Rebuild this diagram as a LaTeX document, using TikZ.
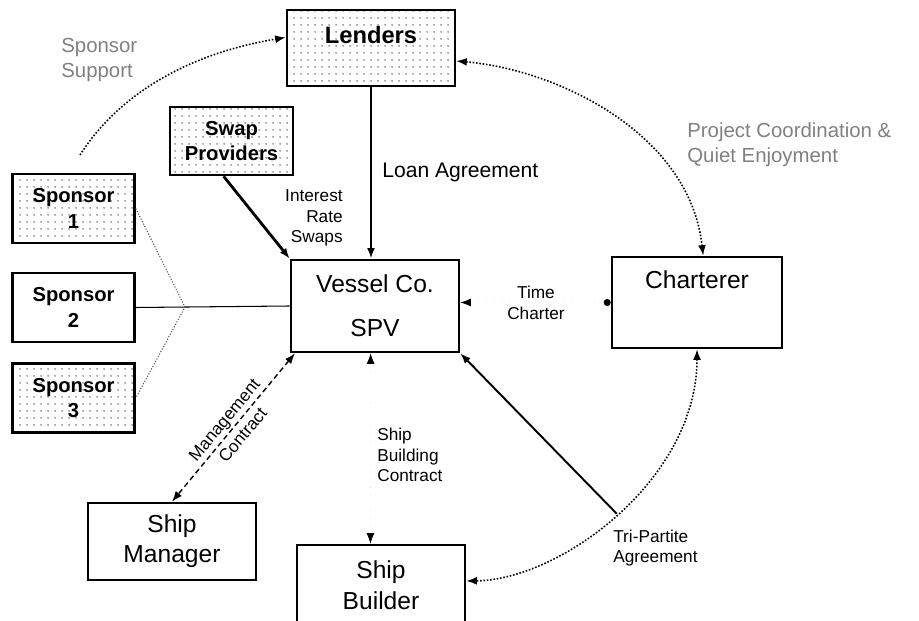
\documentclass[tikz,border=0pt]{standalone}
\usepackage{fontspec}
\setmainfont{Liberation Sans}
\usetikzlibrary{arrows.meta,patterns.meta}
\tikzset{
  deal-box/.style={draw=black, line width=1.5pt, align=center, inner sep=0pt,
    font=\fontsize{14}{17}\selectfont},
  deal-dotbox/.style={deal-box, pattern={Dots[distance=4pt,radius=0.5pt]}, pattern color=black!70},
  box-bold/.style={font=\bfseries\fontsize{11.5}{14.5}\selectfont},
  box-title/.style={align=center, inner sep=0pt, font=\fontsize{14}{17.5}\selectfont},
  link-heavy/.style={line width=1.6pt},
  link-solid/.style={line width=1.1pt},
  link-thin/.style={line width=0.6pt},
  link-dotted/.style={densely dotted, line width=0.9pt},
  link-fine/.style={densely dotted, line width=0.6pt, black!70},
  link-dashed/.style={dash pattern=on 3pt off 2pt, line width=0.8pt},
  link-faint/.style={loosely dotted, line width=0.4pt, black!12},
  deal-label/.style={inner sep=0pt, font=\fontsize{12}{14}\selectfont},
  small-label/.style={inner sep=0pt, font=\fontsize{9.8}{11.6}\selectfont},
  faint-label/.style={inner sep=0pt, text=black!50, font=\fontsize{11.6}{14}\selectfont}
}

\begin{document}
\begin{tikzpicture}[x=0.02cm, y=-0.02cm, >={Latex[length=6pt,width=4.5pt]}]
  \useasboundingbox (0,0) rectangle (919,621);
  % parties
  \node[deal-dotbox, minimum width=3.36cm, minimum height=1.52cm] (lenders) at (371,48) {};
  \node[box-title, font=\bfseries\fontsize{13.5}{16}\selectfont] (lenders-text) at (371,35) {Lenders};
  \node[deal-dotbox, box-bold, minimum width=2.46cm, minimum height=1.36cm] (swap) at (231.5,141) {Swap\\Providers};
  \foreach \n/\y/\sty in {1/208.5/deal-dotbox, 2/307.5/deal-box, 3/398/deal-dotbox} {
    \node[\sty, box-bold, minimum width=2.44cm, minimum height=1.38cm] (sponsor\n) at (73.5,\y) {Sponsor\\\n};
  }
  \node[deal-box, minimum width=3.36cm, minimum height=1.84cm] (spv) at (375,306) {Vessel Co.\\[8pt]SPV};
  \node[deal-box, minimum width=3.4cm, minimum height=1.82cm] (charterer) at (697,302.5) {};
  \node[box-title] (charterer-text) at (697,280) {Charterer};
  \node[deal-box, minimum width=3.36cm, minimum height=1.54cm] (manager) at (172,541.5) {Ship\\Manager};
  \node[deal-box, minimum width=3.36cm, minimum height=2.0cm] (builder) at (381,595) {};
  \node[box-title] (builder-text) at (381,585) {Ship\\Builder};

  % labels
  \node[deal-label, anchor=west] (loan-lbl) at (382,172) {Loan Agreement};
  \node[small-label, align=right, anchor=east] (irs-lbl) at (343,218) {Interest\\Rate\\Swaps};
  \node[small-label, align=center] (tc-lbl) at (536,303) {Time\\Charter};
  \node[small-label, align=left, anchor=west] (sbc-lbl) at (377,455) {Ship\\Building\\Contract};
  \node[small-label, align=left, anchor=west] (tpa-lbl) at (613,548) {Tri-Partite\\Agreement};
  \node[faint-label, align=left, anchor=west] (ss-lbl) at (61,60) {Sponsor\\Support};
  \node[faint-label, align=left, anchor=west] (pc-lbl) at (687,145) {Project Coordination \&\\Quiet Enjoyment};

  % agreements
  \draw[link-heavy, ->] (lenders.south) -- (lenders.south |- spv.north);
  \draw[link-heavy, ->] ([xshift=-4.5pt]swap.south) -- (spv.north west);
  \coordinate (sp-join) at (185,307);
  \draw[link-thin] (sponsor2.east) -- (spv.west);
  \draw[link-fine] (sponsor1.east) -- (sp-join) -- (sponsor3.east);
  \coordinate (ss-start) at (80,155);
  \draw[link-dotted, ->] (ss-start) .. controls (115,100) and (180,55) .. ([yshift=6pt]lenders.west);
  \draw[link-dotted, <->] ([yshift=-7.4pt]lenders.east) .. controls (560,70) and (690,135) .. ([xshift=3.5pt]charterer.north);
  \draw[link-faint, {Latex[length=6pt,width=4.5pt,color=black]}-{Circle[length=4pt,color=black]}]
    ([yshift=2pt]spv.east) -- (charterer.west);
  \draw[link-faint, {Latex[length=6pt,width=4.5pt,color=black]}-{Latex[length=6pt,width=4.5pt,color=black]}]
    ([xshift=-2.5pt]spv.south) -- ([xshift=-6pt]builder.north);
  \draw[link-dashed, <->] ([xshift=3pt]spv.south west) -- (manager.north)
    node[midway, sloped, small-label, align=center] {Management\\[2pt]Contract};
  \draw[link-dotted, <->] (charterer.south) .. controls (697,480) and (560,580) .. ([yshift=8pt]builder.east)
    coordinate[pos=0.5] (tp-meet);
  \draw[link-solid, ->] (tp-meet) -- (spv.south east);
\end{tikzpicture}
\end{document}
